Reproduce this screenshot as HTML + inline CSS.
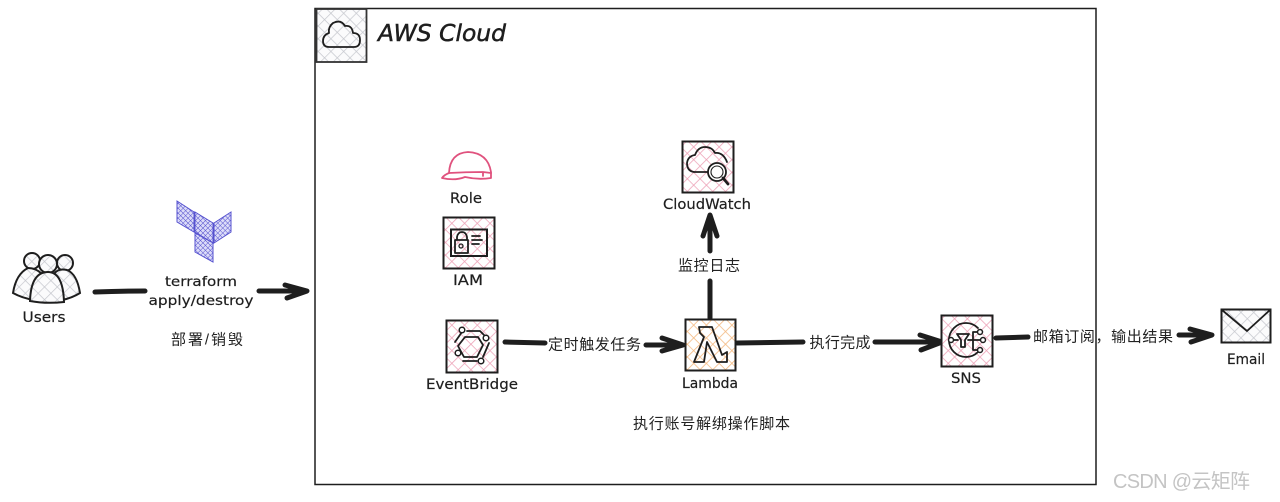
<!DOCTYPE html>
<html><head><meta charset="utf-8"><title>AWS Cloud diagram</title>
<style>
html,body{margin:0;padding:0;background:#fff}
svg{display:block}
text{font-family:"DejaVu Sans","Noto Sans CJK SC",sans-serif;fill:#1e1e1e;font-size:14px;text-anchor:middle;stroke:#1e1e1e;stroke-width:.2}
.cn{font-family:"Liberation Sans","Noto Sans CJK SC",sans-serif;font-size:15px;fill:#222;stroke:none}
.a{fill:none;stroke:#1e1e1e;stroke-width:5;stroke-linecap:round;stroke-linejoin:round}
.i{fill:none;stroke:#1e1e1e;stroke-width:1.8;stroke-linecap:round;stroke-linejoin:round}
.b{stroke:#1e1e1e;stroke-width:2}
</style></head><body>
<svg width="1280" height="502" viewBox="0 0 1280 502" xmlns="http://www.w3.org/2000/svg">
<defs>
<pattern id="g" width="9" height="9" patternUnits="userSpaceOnUse" patternTransform="rotate(45)"><rect width="9" height="9" fill="#fbfbfc"/><path d="M0 0H9M0 0V9" stroke="#c6c8ce" stroke-width="1.400"/></pattern>
<pattern id="p" width="9" height="9" patternUnits="userSpaceOnUse" patternTransform="rotate(45)"><rect width="9" height="9" fill="#fff"/><path d="M0 0H9M0 0V9" stroke="#eda3b8" stroke-width="1.600"/></pattern>
<pattern id="o" width="9" height="9" patternUnits="userSpaceOnUse" patternTransform="rotate(45)"><rect width="9" height="9" fill="#fff"/><path d="M0 0H9M0 0V9" stroke="#f4b981" stroke-width="1.600"/></pattern>
<pattern id="v" width="3.500" height="3.500" patternUnits="userSpaceOnUse" patternTransform="rotate(45)"><rect width="4" height="4" fill="#dcdcf8"/><path d="M0 0H4M0 0V4" stroke="#5652cf" stroke-width="1"/></pattern>
</defs>
<rect width="1280" height="502" fill="#fff"/>

<!-- AWS Cloud -->
<rect x="315" y="8.500" width="781" height="476" fill="none" stroke="#1e1e1e" stroke-width="1.500"/>
<rect x="316.500" y="9" width="50" height="53" fill="url(#g)" stroke="#333" stroke-width="1.800"/>
<path class="i" d="M329 47H354Q360 47 360 40Q360 33 353 33Q352 25 345 26Q341 19 333 23Q328 27 329 33Q323 35 323 41Q323 47 329 47Z"/>
<text x="442" y="41" style="font-size:23px;font-style:italic;font-family:'DejaVu Sans';stroke-width:.5" textLength="128" lengthAdjust="spacingAndGlyphs">AWS Cloud</text>

<!-- Users -->
<g fill="url(#g)" stroke="#1e1e1e" stroke-width="2">
<circle cx="32" cy="261" r="8"/><circle cx="65" cy="263" r="8"/>
<path d="M13 293Q16 274 28 268Q36 268 42 274L34 300Q22 298 13 293Z"/>
<path d="M80 293Q77 274 67 270Q58 268 54 274L62 300Q72 298 80 293Z"/>
<circle cx="48" cy="264" r="9"/>
<path d="M30 301Q31 272 48 272Q63 272 64 302Q46 304 30 301Z"/>
</g>
<text x="44" y="322" style="font-size:14px" textLength="43" lengthAdjust="spacingAndGlyphs">Users</text>

<!-- Terraform -->
<g fill="url(#v)" stroke="#5652cf" stroke-width="1">
<path d="M177 201L194 212V232L177 222Z"/>
<path d="M195 212L213 223V243L195 232Z"/>
<path d="M214 223L231 212V232L214 243Z"/>
<path d="M195 233L213 243V262L195 252Z"/>
</g>
<text x="201" y="286" style="font-size:13.500px" textLength="72" lengthAdjust="spacingAndGlyphs">terraform</text>
<text x="201" y="305" style="font-size:13.500px" textLength="105" lengthAdjust="spacingAndGlyphs">apply/destroy</text>
<text class="cn" x="207" y="344.500" textLength="72">部署/销毁</text>
<path class="a" d="M95 292Q120 291 145 291"/>
<path class="a" d="M259 291H306M285 285L307 291L287 298"/>

<!-- Role -->
<g fill="#fff" stroke="#e0527e" stroke-width="1.800" stroke-linejoin="round" stroke-linecap="round">
<path d="M442 178Q444 175 449 173Q450 153 468 152Q488 153 491 172V178Q478 180 465 177Q455 181 442 178Z"/>
<path d="M449 173Q466 172 483 172L491 173M483 172V176" fill="none"/>
</g>
<text x="466" y="203" style="font-size:14.500px" textLength="32" lengthAdjust="spacingAndGlyphs">Role</text>

<!-- IAM -->
<rect x="443.500" y="217.500" width="51" height="51" fill="url(#p)" class="b"/>
<rect x="451" y="229.500" width="36" height="26.500" fill="none" stroke="#1e1e1e" stroke-width="2"/>
<path class="i" d="M455 240V253H468V240ZM457 240V237Q458 232 462 232Q466 232 467 237V240M472 240H482M472 244H479M472 236H480"/>
<circle cx="461" cy="246" r="2" fill="none" stroke="#1e1e1e" stroke-width="1.300"/>
<text x="468" y="285" style="font-size:14px" textLength="30" lengthAdjust="spacingAndGlyphs">IAM</text>

<!-- EventBridge -->
<rect x="446.500" y="320.500" width="51" height="52" fill="url(#p)" class="b"/>
<path class="i" d="M465 337H478L483 345L477 357H464L458 346Z"/>
<path class="i" d="M467 331H480L484 335M489 343L483 357M463 361H477M455 342L462 332"/>
<g fill="#fff" stroke="#1e1e1e" stroke-width="1.500"><circle cx="462" cy="330" r="2.800"/><circle cx="486" cy="338" r="2.800"/><circle cx="458" cy="353" r="2.800"/><circle cx="481" cy="361" r="2.800"/></g>
<text x="472" y="389" style="font-size:14.500px" textLength="92" lengthAdjust="spacingAndGlyphs">EventBridge</text>
<path class="a" d="M505 342L545 343"/>
<text class="cn" x="594.500" y="349.500" textLength="93">定时触发任务</text>
<path class="a" d="M646 345H682M662 338L683 345L662 351"/>

<!-- CloudWatch -->
<rect x="682.500" y="141.500" width="51" height="51" fill="url(#p)" class="b"/>
<path class="i" d="M708 172H694Q687 171 687 163Q688 156 695 155Q698 147 705 147Q712 147 715 153Q723 152 727 162"/>
<circle cx="717" cy="172" r="9" fill="#fff" stroke="#1e1e1e" stroke-width="1.800"/>
<circle cx="717" cy="172" r="6" fill="none" stroke="#1e1e1e" stroke-width="1.100"/>
<path d="M723 178L728 184" stroke="#1e1e1e" stroke-width="2.800" stroke-linecap="round"/>
<text x="707" y="209" style="font-size:14.500px" textLength="88" lengthAdjust="spacingAndGlyphs">CloudWatch</text>
<path class="a" d="M710 318V281M710 251V216M703 236L710 215L717 236"/>
<text class="cn" x="709" y="270.500" textLength="62">监控日志</text>

<!-- Lambda -->
<rect x="685.500" y="319.500" width="50" height="51" fill="url(#o)" class="b"/>
<path d="M699 327H712L722 355L727 352V362H717L707 342L704 362H694L704 337L700 333Z" fill="none" stroke="#1e1e1e" stroke-width="1.800" stroke-linejoin="round"/>
<text x="710" y="388" style="font-size:14px" textLength="56" lengthAdjust="spacingAndGlyphs">Lambda</text>
<text class="cn" x="711.500" y="428.500" textLength="157">执行账号解绑操作脚本</text>
<path class="a" d="M737 343L803 342"/>
<text class="cn" x="840" y="347.500" textLength="61">执行完成</text>
<path class="a" d="M875 342H941M920 335L942 342L921 350"/>

<!-- SNS -->
<rect x="941.500" y="315.500" width="51" height="51" fill="url(#p)" class="b"/>
<path class="i" d="M978 328A17 17 0 1 0 978 352M951 340H958M968 340H983M973 332V350M973 332H980M973 350H980"/>
<path class="i" d="M957 334H969L965 340V347H961V340Z"/>
<g fill="#fff" stroke="#1e1e1e" stroke-width="1.500"><circle cx="951" cy="340" r="2.500"/><circle cx="980" cy="332" r="2.500"/><circle cx="983" cy="340" r="2.500"/><circle cx="980" cy="350" r="2.500"/></g>
<text x="966" y="383" style="font-size:14px" textLength="30" lengthAdjust="spacingAndGlyphs">SNS</text>
<path class="a" d="M996 338L1028 337"/>
<text class="cn" x="1103" y="341.500" textLength="140">邮箱订阅，输出结果</text>
<path class="a" d="M1179 335H1211M1190 329L1212 335L1191 342"/>

<!-- Email -->
<rect x="1221.500" y="309.500" width="49" height="33" fill="url(#g)" class="b"/>
<path class="i" d="M1222 310L1247 331L1270 310"/>
<text x="1246" y="364" style="font-size:14px" textLength="38" lengthAdjust="spacingAndGlyphs">Email</text>

<!-- Watermark -->
<text x="1181.500" y="488" style="font-family:'Liberation Sans','Noto Sans CJK SC',sans-serif;font-size:20px;fill:#c4c4c4;stroke:none" textLength="137">CSDN @云矩阵</text>
</svg>
</body></html>
